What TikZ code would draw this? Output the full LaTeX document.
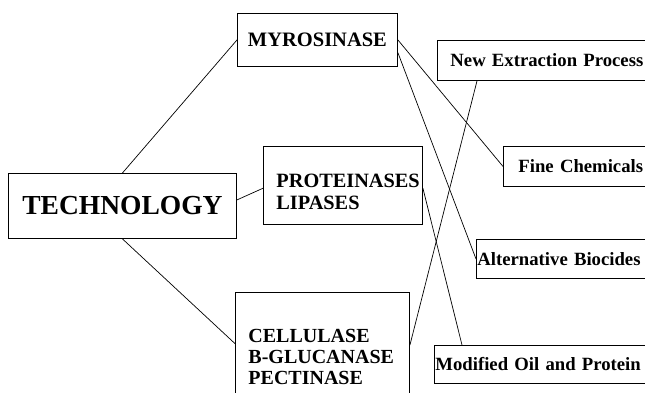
\documentclass[tikz,border=0pt]{standalone}
\usepackage{fontspec}
\setmainfont{Liberation Serif}
\usetikzlibrary{positioning}
\usetikzlibrary{calc}

\tikzset{
  topic/.style={draw, rectangle, line width=0.9pt, inner ysep=0pt, anchor=north west},
  result/.style={topic, minimum height=40, text width=260, align=left, font=\bfseries\fontsize{18.7}{22}\selectfont},
  link/.style={line width=0.7pt, black},
}

\begin{document}
\begin{tikzpicture}[x=1pt, y=-1pt]
				% frame of the picture
				\clip (0,0) rectangle (645,393);
				% draw enzyme boxes
				\node[topic, minimum width=228, minimum height=65, font=\bfseries\fontsize{27.5}{30}\selectfont] (tech) at (8,173) {TECHNOLOGY};
				\node[topic, minimum width=160, minimum height=53, font=\bfseries\fontsize{20.5}{24}\selectfont] (myro) at (237,13) {MYROSINASE};
				\node[topic, inner xsep=13, text width=133, minimum height=78, align=left, font=\bfseries\fontsize{20.3}{22}\selectfont] (prot) at (263,146) {\rule{0pt}{27pt}PROTEINASES\\LIPASES};
				\node[topic, inner xsep=13, text width=148, minimum height=130, align=left, font=\bfseries\fontsize{20}{21}\selectfont] (cell) at (235,292) {CELLULASE\\B-GLUCANASE\\PECTINASE};
				% draw product boxes
				\node[result, inner xsep=13] (nep) at (437,40) {New Extraction Process};
				\node[result, inner xsep=15] (fine) at (503,146) {Fine Chemicals};
				\node[result, inner xsep=1, minimum height=39] (alt) at (476,239) {Alternative Biocides};
				\node[result, inner xsep=1, minimum height=38] (mod) at (434,345) {Modified Oil and Protein};
				% draw lines
				\draw[link] (tech.north) -- (myro.west);
				\draw[link] (tech.3) -- (prot.182);
				\draw[link] (tech.south) -- (cell.171);
				\draw[link] (myro.east) -- (fine.west);
				\draw[link] (myro.-9) -- (alt.west);
				\draw[link] (prot.-2) -- ($(mod.north west)+(28,0)$);
				\draw[link] (cell.8) -- ($(nep.south west)+(40,0)$);
			\end{tikzpicture}
\end{document}
